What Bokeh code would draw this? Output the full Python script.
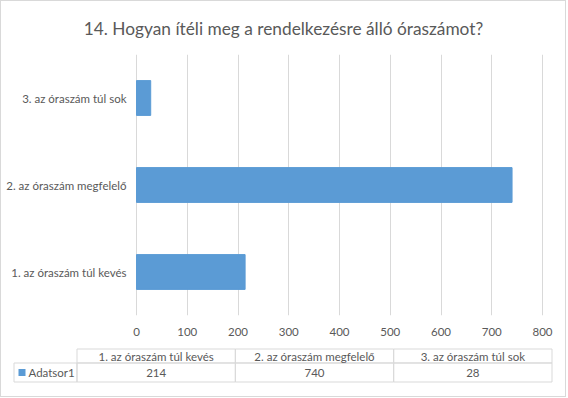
from bokeh.plotting import figure
from bokeh.models import Range1d, FactorRange, ColumnDataSource, FixedTicker
from bokeh.layouts import column
from bokeh.core.properties import value
from bokeh.embed import file_html
from bokeh.resources import INLINE

# ---- data ----
title_text = "14. Hogyan ítéli meg a rendelkezésre álló óraszámot?"
categories = ["1. az óraszám túl kevés", "2. az óraszám megfelelő", "3. az óraszám túl sok"]
values = [214, 740, 28]
series_name = "Adatsor1"
x_ticks = [0, 100, 200, 300, 400, 500, 600, 700, 800]

# ---- style ----
BAR = "#5B9BD5"
GRID = "#D9D9D9"
TEXT = "#595959"
FONT = "Lato"
FS = "11.5px"

W = 564
HA, HB = 342, 53
FT, FB = 48, 314            # plot frame top / bottom (px)
X0_PX, XMAX_PX = 135, 541   # where 0 and the last tick sit (px)
XMAX = x_ticks[-1]
PXU = (XMAX_PX - X0_PX) / XMAX

def dx(px):
    return (px - X0_PX) / PXU

# ---- chart ----
pA = figure(width=W, height=HA,
            y_range=FactorRange(factors=categories),
            x_range=Range1d(dx(0), dx(W)),
            y_axis_location=None,
            output_backend="svg", toolbar_location=None, tools="")
pA.min_border_left = 0
pA.min_border_right = 0
pA.min_border_top = FT
pA.min_border_bottom = HA - FB
pA.outline_line_color = None
pA.background_fill_color = "white"
pA.border_fill_color = "white"

pA.title.text = title_text
pA.title.align = "center"
pA.title.vertical_align = "middle"
pA.title.text_font = FONT
pA.title.text_font_size = "17.3px"
pA.title.text_font_style = "normal"
pA.title.text_color = TEXT
pA.title.standoff = 30

src = ColumnDataSource(dict(cat=categories, val=values, lx=[dx(125)] * len(categories)))
pA.hbar(y="cat", left=0, right="val", height=0.4, color=BAR, source=src)
pA.text(x="lx", y="cat", text="cat", source=src, text_align="right", text_baseline="middle",
        text_color=TEXT, text_font=value(FONT), text_font_size=value(FS))

pA.xgrid.ticker = FixedTicker(ticks=x_ticks)
pA.xgrid.grid_line_color = GRID
pA.ygrid.grid_line_color = None

xa = pA.xaxis[0]
xa.ticker = FixedTicker(ticks=x_ticks)
xa.axis_line_color = None
xa.major_tick_line_color = None
xa.major_tick_out = 0
xa.minor_tick_line_color = None
xa.minor_tick_out = 0
xa.major_label_text_font = FONT
xa.major_label_text_font_size = FS
xa.major_label_text_color = TEXT
xa.major_label_standoff = 12

# ---- data table ----
pB = figure(width=W, height=HB, x_range=Range1d(0, W), y_range=Range1d(HB, 0),
            x_axis_location=None, y_axis_location=None,
            output_backend="svg", toolbar_location=None, tools="")
pB.min_border_left = 0
pB.min_border_right = 0
pB.min_border_top = 0
pB.min_border_bottom = 0
pB.outline_line_color = None
pB.grid.visible = False
pB.background_fill_color = "white"
pB.border_fill_color = "white"

leg_left, leg_right, tab_right = 12.5, 75.5, 550.5
row_top, row_mid, row_bot = 5.5, 19.5, 38.5
n = len(categories)
cw = (tab_right - leg_right) / n
col_left = [leg_right + i * cw for i in range(n)]
col_right = [l + cw for l in col_left]
col_center = [l + cw / 2 for l in col_left]

pB.quad(left=col_left, right=col_right, top=[row_top] * n, bottom=[row_mid] * n,
        fill_color=None, line_color=GRID, line_width=1)
pB.quad(left=[leg_left] + col_left, right=[leg_right] + col_right,
        top=[row_mid] * (n + 1), bottom=[row_bot] * (n + 1),
        fill_color=None, line_color=GRID, line_width=1)

yh = (row_top + row_mid) / 2
yd = (row_mid + row_bot) / 2
pB.text(x=col_center, y=[yh] * n, text=categories,
        text_align="center", text_baseline="middle", text_color=TEXT,
        text_font=value(FONT), text_font_size=value(FS))
pB.text(x=col_center, y=[yd] * n, text=[str(v) for v in values],
        text_align="center", text_baseline="middle", text_color=TEXT,
        text_font=value(FONT), text_font_size=value(FS))
pB.scatter(x=[leg_left + 8], y=[yd], marker="square", size=7,
           color=BAR, line_color=None)
pB.text(x=[leg_left + 14.5], y=[yd], text=[series_name],
        text_align="left", text_baseline="middle", text_color=TEXT,
        text_font=value(FONT), text_font_size=value(FS))

layout = column(pA, pB, spacing=0, styles={"border": "1px solid #D9D9D9"})

open("out.html", "w").write(file_html(layout, INLINE))
